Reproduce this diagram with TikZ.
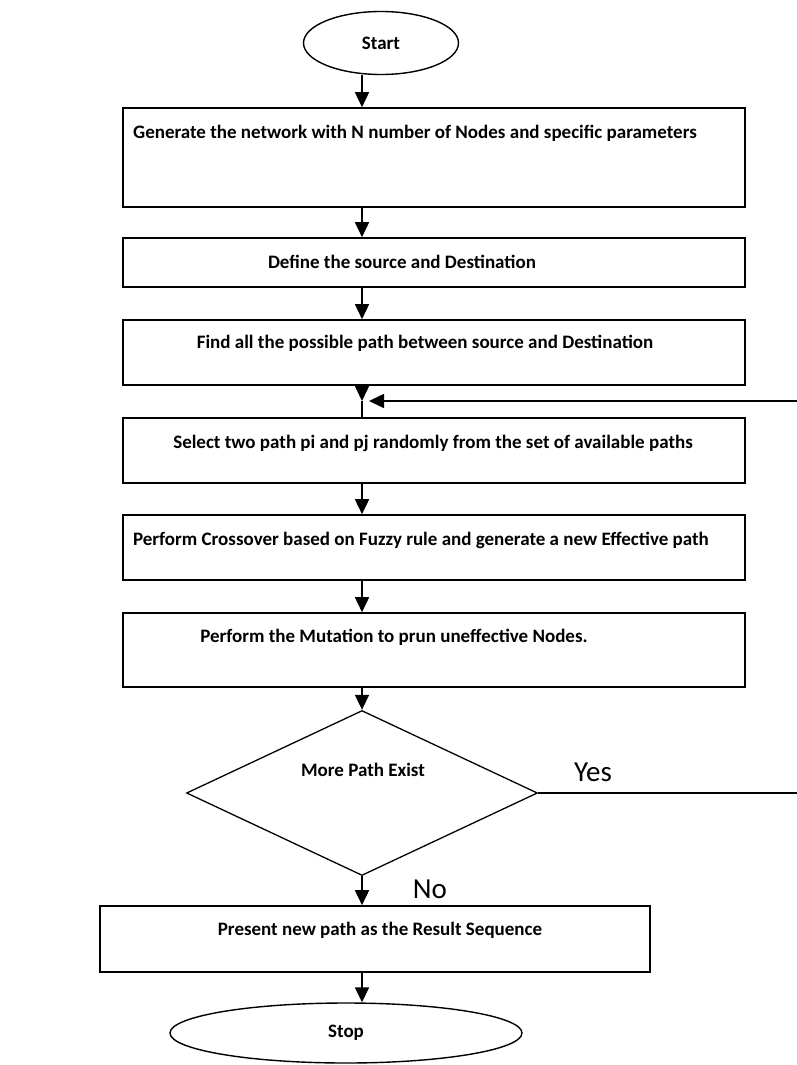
\documentclass[tikz,border=0pt]{standalone}
\usepackage{fontspec}
\setmainfont{Carlito}
\usetikzlibrary{arrows.meta,shapes.geometric,positioning}

\begin{document}
\begin{tikzpicture}[x=1pt, y=-1pt, >={Triangle[length=15pt,width=14pt]},
                    line width=1.6pt, font=\bfseries\fontsize{19}{22}\selectfont]
  \tikzstyle{box}=[draw, rectangle, minimum width=622, inner sep=0pt]
  \tikzstyle{term}=[draw, ellipse, inner sep=0pt, line width=1.4pt]
  \tikzstyle{test}=[draw, diamond, inner sep=0pt, line width=1.3pt]
  \tikzstyle{txt}=[inner sep=0pt]
  \tikzstyle{ans}=[inner sep=0pt, font=\fontsize{29}{32}\selectfont]

  \useasboundingbox (0,0) rectangle (796,1065);

  \coordinate (axis) at (362,0);

	\node[term, minimum width=155, minimum height=63]	(start) at (381,43)		{Start};
	\node[box, minimum height=99]	(gen)	at (434,157.5)	{};
	\node[box, minimum height=49]	(def)	at (434,262.5)	{};
	\node[box, minimum height=65]	(find)	at (434,352.5)	{};
	\node[box, minimum height=65]	(sel)	at (434,450.5)	{};
	\node[box, minimum height=65]	(cross)	at (434,547.5)	{};
	\node[box, minimum height=74]	(mut)	at (434,650)		{};
	\node[test, minimum width=351, minimum height=165]	(more) at (362,793)	{};
	\node[box, minimum width=550, minimum height=66]	(res)	at (375,939)	{};
	\node[term, minimum width=352, minimum height=60]	(stop) at (346,1033)	{Stop};

	% texts
	\node[txt] at (415,133)	{Generate the network with N number of  Nodes and specific parameters};
	\node[txt] at (402,262)	{Define the source and Destination};
	\node[txt] at (425,343)	{Find all the possible path between source and Destination};
	\node[txt] at (433,443)	{Select two path pi and pj randomly from the set of available paths};
	\node[txt] at (421,540)	{Perform Crossover based on Fuzzy rule and generate a new Effective path};
	\node[txt] at (394,637)	{Perform the Mutation to prun uneffective Nodes.};
	\node[txt] at (363,770)	{More Path Exist};
	\node[txt] at (380,930)	{Present new path as the Result Sequence};

	\node[ans] (yes) at (593,772) {Yes};
	\node[ans] (no)  at (430,889) {No};

	\coordinate (join) at (362,401);
	\coordinate (back) at (369,401);

	\path[->]
    (start.south -| axis)  edge [] (gen.north -| axis)
    (gen.south -| axis)    edge [] (def.north -| axis)
    (def.south -| axis)    edge [] (find.north -| axis)
    (find.south -| axis)   edge [] (join)
    (sel.south -| axis)    edge [] (cross.north -| axis)
    (cross.south -| axis)  edge [] (mut.north -| axis)
    (mut.south -| axis)    edge [] (more.north)
    (more.south)           edge [] (res.north -| axis)
    (res.south -| axis)    edge [] (stop.north -| axis);

	\draw (join) -- (sel.north -| axis);
	\draw[->] (more.east) -- ++(264,0) |- (back);

\end{tikzpicture}
\end{document}
